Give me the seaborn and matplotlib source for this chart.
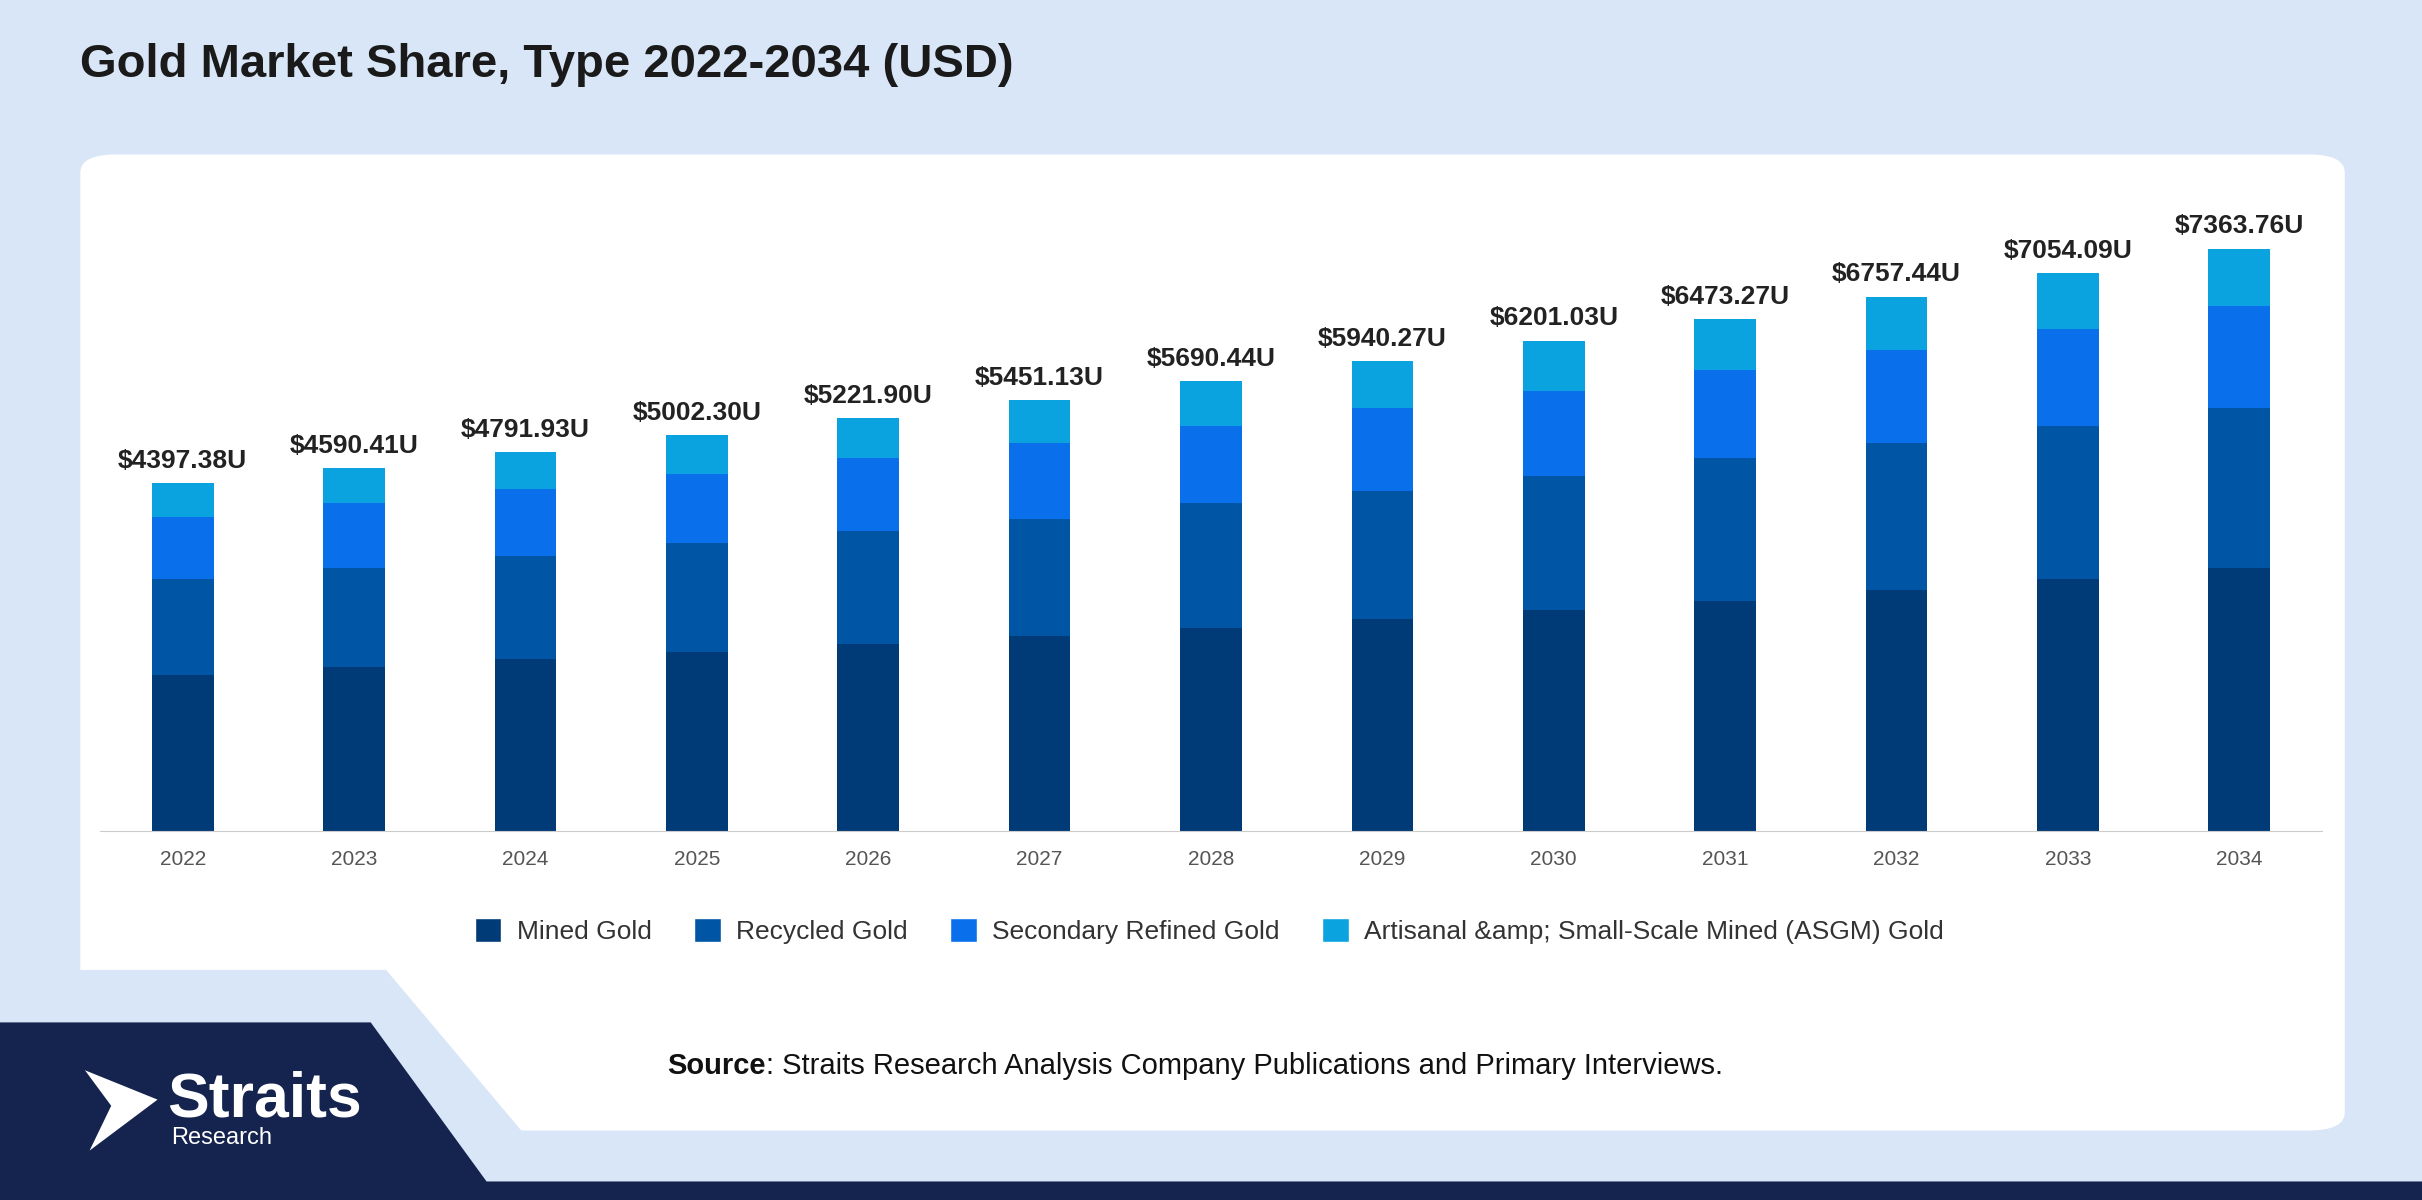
import matplotlib
matplotlib.use("Agg")
import matplotlib.pyplot as plt
from matplotlib.patches import FancyBboxPatch, Polygon, Patch
import seaborn as sns
import pandas as pd

years = ["2022", "2023", "2024", "2025", "2026", "2027", "2028",
         "2029", "2030", "2031", "2032", "2033", "2034"]
mined = [1974, 2071, 2169, 2267, 2365, 2462, 2560, 2677, 2794, 2912, 3049, 3185, 3322]
recycled = [1212, 1250, 1309, 1368, 1427, 1485, 1583, 1622, 1700, 1798, 1856, 1935, 2032]
secondary = [782, 821, 840, 879, 918, 958, 977, 1055, 1075, 1114, 1173, 1231, 1290]
totals = [4397.38, 4590.41, 4791.93, 5002.30, 5221.90, 5451.13, 5690.44,
          5940.27, 6201.03, 6473.27, 6757.44, 7054.09, 7363.76]
series = ["Mined Gold", "Recycled Gold", "Secondary Refined Gold",
          "Artisanal &amp; Small-Scale Mined (ASGM) Gold"]
colors = ["#003b78", "#0055a5", "#0a6fea", "#0aa3e0"]

df = pd.DataFrame({"year": years, "mined": mined, "recycled": recycled,
                   "secondary": secondary, "total": totals})
df["c1"] = df["mined"]
df["c2"] = df["c1"] + df["recycled"]
df["c3"] = df["c2"] + df["secondary"]

sns.set_style("white")
plt.rcParams["font.family"] = ["Liberation Sans", "DejaVu Sans"]

fig = plt.figure(figsize=(24.22, 12), dpi=100)
fig.patch.set_facecolor("#d9e6f8")

W, H = 1568, 777
def fx(x): return x / W
def fy(y): return 1 - y / H

# white panel
fig.patches.append(FancyBboxPatch((fx(52), fy(732)), fx(1518) - fx(52), fy(100) - fy(732),
                                  boxstyle="round,pad=0,rounding_size=0.015",
                                  transform=fig.transFigure, fc="white", ec="none", zorder=0))
# notch area at bottom-left
fig.patches.append(Polygon([(fx(0), fy(777)), (fx(0), fy(628)), (fx(250), fy(628)),
                            (fx(340), fy(735)), (fx(340), fy(777))],
                           closed=True, transform=fig.transFigure, fc="#d9e6f8", ec="none", zorder=1))
navy = "#15234f"
fig.patches.append(Polygon([(fx(0), fy(777)), (fx(0), fy(662)), (fx(240), fy(662)),
                            (fx(315), fy(765)), (fx(1568), fy(765)), (fx(1568), fy(777))],
                           closed=True, transform=fig.transFigure, fc=navy, ec="none", zorder=2))

ax = fig.add_axes([fx(65), fy(538), fx(1503) - fx(65), fy(120) - fy(538)])
ax.set_zorder(5)
ax.set_facecolor("none")
layers = [("total", colors[3]), ("c3", colors[2]), ("c2", colors[1]), ("c1", colors[0])]
for col, c in layers:
    sns.barplot(data=df, x="year", y=col, color=c, width=0.36, saturation=1,
                ax=ax, errorbar=None, linewidth=0)
for i, t in enumerate(totals):
    ax.text(i, t + 130, f"${t:.2f}U", ha="center", va="bottom",
            fontsize=19, fontweight="bold", color="#222222")
ax.set_xlim(-0.48, 12.48)
ax.set_ylim(0, 8165)
ax.set_xlabel("")
ax.set_ylabel("")
ax.set_yticks([])
sns.despine(ax=ax, left=True)
ax.spines["bottom"].set_color("#cccccc")
ax.tick_params(axis="x", length=0, labelsize=15, labelcolor="#555555", pad=14)

handles = [Patch(facecolor=c, label=s) for c, s in zip(colors, series)]
fig.legend(handles=handles, loc="center", bbox_to_anchor=(fx(783), fy(603)), ncol=4,
           frameon=False, fontsize=19, handlelength=1.0, handleheight=1.0,
           columnspacing=1.6, handletextpad=0.6, labelcolor="#333333")

fig.text(fx(52), fy(42), "Gold Market Share, Type 2022-2034 (USD)", fontsize=34,
         fontweight="bold", color="#1a1a1a", va="center")
src = fig.text(fx(432), fy(690), "Source", fontsize=21, fontweight="bold",
               color="#111111", va="center")
r = fig.canvas.get_renderer()
bb = src.get_window_extent(r).transformed(fig.transFigure.inverted())
fig.text(bb.x1, fy(690), ": Straits Research Analysis Company Publications and Primary Interviews.",
         fontsize=21, color="#111111", va="center")

# logo
fig.patches.append(Polygon([(fx(55), fy(693)), (fx(102), fy(712)), (fx(58), fy(745)),
                            (fx(72), fy(716))], closed=True, transform=fig.transFigure,
                           fc="white", ec="none", zorder=3))
fig.text(fx(108), fy(712), "Straits", fontsize=45, fontweight="bold", color="white",
         va="center", zorder=4)
fig.text(fx(111), fy(737), "Research", fontsize=17, color="white", va="center", zorder=4)

fig.savefig("out.png", dpi=100, facecolor=fig.get_facecolor())
